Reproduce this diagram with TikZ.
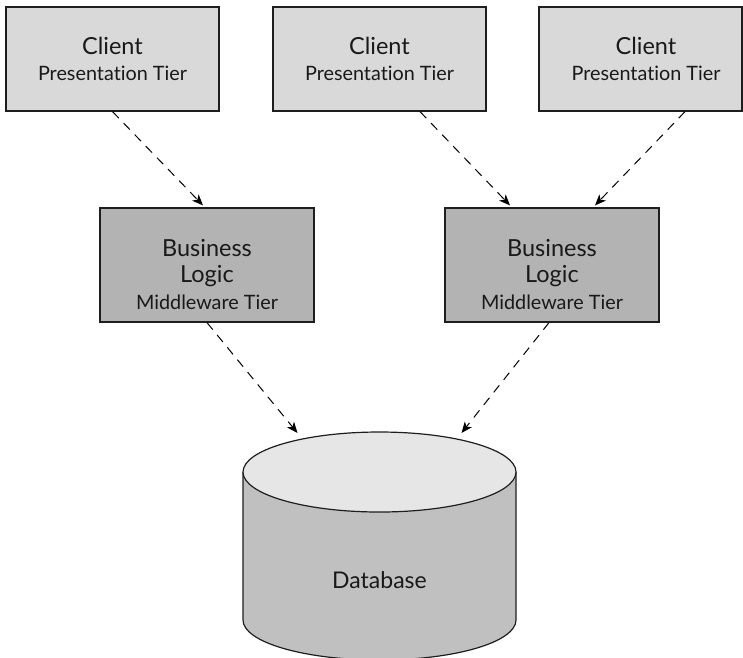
\documentclass[tikz,border=0pt]{standalone}
\usepackage{fontspec}
\setmainfont[RawFeature=-liga]{Lato}
\usetikzlibrary{arrows.meta}
\definecolor{clientfill}{HTML}{D9D9D9}
\definecolor{bizfill}{HTML}{B3B3B3}
\definecolor{dbtopfill}{HTML}{E6E6E6}
\definecolor{dbbodyfill}{HTML}{C0C0C0}
\definecolor{edgecol}{HTML}{1E1E1E}
\begin{document}
\begin{tikzpicture}[x=1pt,y=-1pt,
  clientbox/.style={draw=edgecol, line width=1.2pt, fill=clientfill, minimum width=213pt, minimum height=104pt, inner sep=0pt},
  bizbox/.style={draw=edgecol, line width=1.2pt, fill=bizfill, minimum width=214pt, minimum height=114pt, inner sep=0pt},
  bigtxt/.style={anchor=base, inner sep=0pt, text=black!90, font=\fontsize{23.5}{28}\selectfont},
  smalltxt/.style={anchor=base, inner sep=0pt, text=black!90, font=\fontsize{19.8}{24}\selectfont},
  arr/.style={draw=black, line width=1pt, dash pattern=on 9pt off 7pt, -{Stealth[length=11pt,width=9pt,inset=3pt]}},
  dbline/.style={draw=edgecol, line width=1.2pt}
]
\useasboundingbox (0,0) rectangle (743,657);
\clip (0,0) rectangle (743,657);

% client boxes
\node[clientbox] (c1) at (112.5,59) {};
\node[clientbox] (c2) at (379.5,59) {};
\node[clientbox, minimum width=203pt] (c3) at (640.5,59) {};
\node[bigtxt] (c1a) at (112.5,54) {Client};
\node[smalltxt] (c1b) at (112.5,80) {Presentation Tier};
\node[bigtxt] (c2a) at (379.5,54) {Client};
\node[smalltxt] (c2b) at (379.5,80) {Presentation Tier};
\node[bigtxt] (c3a) at (646,54) {Client};
\node[smalltxt] (c3b) at (646,80) {Presentation Tier};

% business boxes
\node[bizbox] (b1) at (207,265) {};
\node[bizbox] (b2) at (552,265) {};
\node[bigtxt] (b1a) at (207,256) {Business};
\node[bigtxt] (b1b) at (207,282) {Logic};
\node[smalltxt] (b1c) at (207,309) {Middleware Tier};
\node[bigtxt] (b2a) at (552,256) {Business};
\node[bigtxt] (b2b) at (552,282) {Logic};
\node[smalltxt] (b2c) at (552,309) {Middleware Tier};

% database cylinder
\path[fill=dbbodyfill] (243,472) -- (243,620)
  arc[start angle=180, end angle=360, x radius=136.5pt, y radius=40pt]
  -- (516,472)
  arc[start angle=0, end angle=-180, x radius=136.5pt, y radius=40pt] -- cycle;
\draw[dbline] (243,472) -- (243,620)
  arc[start angle=180, end angle=360, x radius=136.5pt, y radius=40pt]
  -- (516,472);
\draw[dbline, fill=dbtopfill] (379.5,472) ellipse[x radius=136.5pt, y radius=40pt];
\coordinate (dbtop) at (379.5,433);
\node[bigtxt, font=\fontsize{23}{27}\selectfont] (db) at (379.5,588) {Database};

% connectors
\draw[arr] (c1.south) -- ([xshift=-4pt,yshift=2pt]b1.north);
\draw[arr] ([xshift=40.5pt]c2.south) -- ([xshift=-42pt,yshift=2pt]b2.north);
\draw[arr] ([xshift=44.5pt]c3.south) -- ([xshift=43pt,yshift=2pt]b2.north);
\draw[arr] (b1.south) -- ([xshift=-82pt]dbtop);
\draw[arr] ([xshift=-3pt]b2.south) -- ([xshift=82pt]dbtop);
\end{tikzpicture}
\end{document}
